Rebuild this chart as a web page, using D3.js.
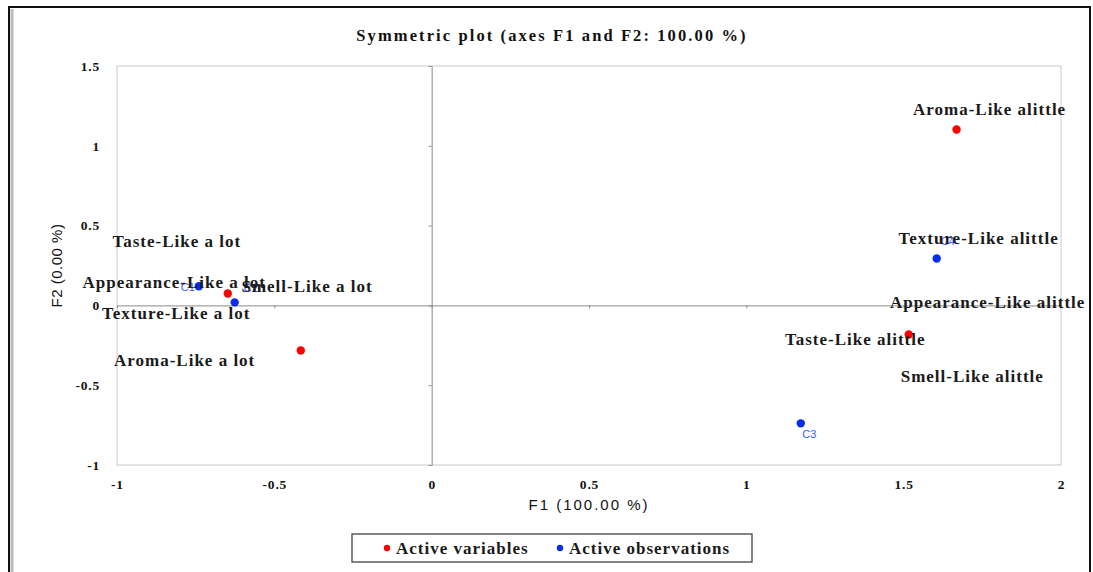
<!DOCTYPE html>
<html>
<head>
<meta charset="utf-8">
<script src="https://cdn.jsdelivr.net/npm/d3@7"></script>
<style>
  html, body { margin: 0; padding: 0; background: #fff; }
  svg { display: block; }
</style>
</head>
<body>
<svg id="chart" width="1093" height="572"></svg>
<script>
// Correspondence analysis, symmetric plot: active variables (red) and observations (blue)
const xTicks = [-1, -0.5, 0, 0.5, 1, 1.5, 2];
const yTicks = [-1, -0.5, 0, 0.5, 1, 1.5];

// Active variables: point coordinates (F1, F2)
const varNames = ["Aroma-Like alittle", "Appearance-Like a lot", "Aroma-Like a lot", "Appearance-Like alittle"];
const varF1 = [1.668, -0.648, -0.416, 1.516];
const varF2 = [1.102, 0.075, -0.282, -0.182];

// Variable category labels, placed by the layout in (F1, F2) units
const labelText = [
  "Taste-Like a lot", "Appearance-Like a lot", "Smell-Like a lot", "Texture-Like a lot", "Aroma-Like a lot",
  "Aroma-Like alittle", "Texture-Like alittle", "Appearance-Like alittle", "Taste-Like alittle", "Smell-Like alittle"
];
const labelF1 = [-0.810, -0.818, -0.396, -0.812, -0.785, 1.773, 1.738, 1.767, 1.346, 1.718];
const labelF2 = [0.388, 0.131, 0.106, -0.063, -0.357, 1.215, 0.407, 0.006, -0.225, -0.457];

// Active observations
const obsNames = ["C1", "C2", "C3", "C4"];
const obsF1 = [-0.74, -0.626, 1.173, 1.605];
const obsF2 = [0.12, 0.019, -0.739, 0.294];
const obsLabelF1 = [-0.775, -0.575, 1.2, 1.64];
const obsLabelF2 = [0.11, 0.1, -0.815, 0.395];

const legendItems = ["Active variables", "Active observations"];

const svg = d3.select("#chart");
const W = 1093, H = 572;
const margin = { left: 117, right: 32, top: 66, bottom: 107 };
const plotW = W - margin.left - margin.right;
const plotH = H - margin.top - margin.bottom;

const x = d3.scaleLinear().domain([-1, 2]).range([margin.left, margin.left + plotW]);
const y = d3.scaleLinear().domain([-1, 1.5]).range([margin.top + plotH, margin.top]);

const RED = "#ff0000", BLUE = "#0a2cf0";
const serif = "'Liberation Serif', 'Times New Roman', serif";
const sans = "'Liberation Sans', Arial, sans-serif";
const plain = d => String(d);

// outer frame
svg.append("rect").attr("x", 9).attr("y", 7).attr("width", 1081).attr("height", 580)
  .attr("fill", "none").attr("stroke", "#111").attr("stroke-width", 2);
svg.append("line").attr("x1", 12).attr("x2", 12).attr("y1", 9).attr("y2", 572)
  .attr("stroke", "#bbb").attr("stroke-width", 3);

// title
svg.append("text").attr("x", 552).attr("y", 41).attr("text-anchor", "middle")
  .attr("font-family", serif).attr("font-weight", "bold").attr("font-size", 16.5)
  .attr("letter-spacing", 2.1).attr("fill", "#111").text("Symmetric plot (axes F1 and F2: 100.00 %)");

// plot frame
svg.append("rect").attr("x", x(-1)).attr("y", y(1.5)).attr("width", plotW).attr("height", plotH)
  .attr("fill", "none").attr("stroke", "#c9c9c9").attr("stroke-width", 1);

// axes through the origin with small ticks
const ax0 = svg.append("g").attr("transform", `translate(${x(0)},0)`)
  .call(d3.axisLeft(y).tickValues(yTicks).tickFormat("").tickSizeInner(3).tickSizeOuter(0));
const ay0 = svg.append("g").attr("transform", `translate(0,${y(0)})`)
  .call(d3.axisBottom(x).tickValues(xTicks).tickFormat("").tickSizeInner(3).tickSizeOuter(0));
[ax0, ay0].forEach(g => {
  g.selectAll("path, line").attr("stroke", "#8a8a8a").attr("stroke-width", 1);
});

// tick labels along the plot edges
const leftAxis = svg.append("g").attr("transform", `translate(${x(-1) - 14},0)`)
  .call(d3.axisLeft(y).tickValues(yTicks).tickSize(0).tickFormat(plain));
const bottomAxis = svg.append("g").attr("transform", `translate(0,${y(-1) + 11})`)
  .call(d3.axisBottom(x).tickValues(xTicks).tickSize(0).tickFormat(plain));
[leftAxis, bottomAxis].forEach(g => {
  g.select(".domain").remove();
  g.selectAll("text").attr("font-family", serif).attr("font-weight", "bold")
    .attr("font-size", 13.5).attr("letter-spacing", 0.8).attr("fill", "#111");
});

// axis titles
svg.append("text").attr("x", x(0.5)).attr("y", 510).attr("text-anchor", "middle")
  .attr("font-family", sans).attr("font-size", 15).attr("letter-spacing", 2)
  .attr("fill", "#111").text("F1 (100.00 %)");
svg.append("text").attr("transform", `translate(62,${(y(1.5) + y(-1)) / 2}) rotate(-90)`)
  .attr("text-anchor", "middle").attr("font-family", sans).attr("font-size", 15)
  .attr("letter-spacing", 0.5).attr("fill", "#111").text("F2 (0.00 %)");

// observation labels (beneath variable labels)
svg.append("g").selectAll("text").data(obsNames).join("text")
  .attr("x", (d, i) => x(obsLabelF1[i])).attr("y", (d, i) => y(obsLabelF2[i]))
  .attr("text-anchor", "middle").attr("dominant-baseline", "middle")
  .attr("font-family", sans).attr("font-size", 11).attr("fill", "#3b5cff").text(d => d);

// observation points
svg.append("g").selectAll("circle").data(obsNames).join("circle")
  .attr("cx", (d, i) => x(obsF1[i])).attr("cy", (d, i) => y(obsF2[i]))
  .attr("r", 4.2).attr("fill", BLUE);

// variable points
svg.append("g").selectAll("circle").data(varNames).join("circle")
  .attr("cx", (d, i) => x(varF1[i])).attr("cy", (d, i) => y(varF2[i]))
  .attr("r", 4.2).attr("fill", RED);

// variable labels
svg.append("g").selectAll("text").data(labelText).join("text")
  .attr("x", (d, i) => x(labelF1[i])).attr("y", (d, i) => y(labelF2[i]))
  .attr("text-anchor", "middle").attr("dominant-baseline", "middle")
  .attr("font-family", serif).attr("font-weight", "bold").attr("font-size", 17)
  .attr("letter-spacing", 1).attr("fill", "#1a1a1a").text(d => d);

// legend
const lg = svg.append("g");
lg.append("rect").attr("x", 352).attr("y", 534).attr("width", 400).attr("height", 28)
  .attr("fill", "#fff").attr("stroke", "#333").attr("stroke-width", 1.2);
const legendX = [387, 560];
const legendColor = [RED, BLUE];
legendItems.forEach((name, i) => {
  lg.append("circle").attr("cx", legendX[i]).attr("cy", 548).attr("r", 3.2).attr("fill", legendColor[i]);
  lg.append("text").attr("x", legendX[i] + 9).attr("y", 554)
    .attr("font-family", serif).attr("font-weight", "bold").attr("font-size", 17)
    .attr("letter-spacing", 1).attr("fill", "#1a1a1a").text(name);
});
</script>
</body>
</html>
